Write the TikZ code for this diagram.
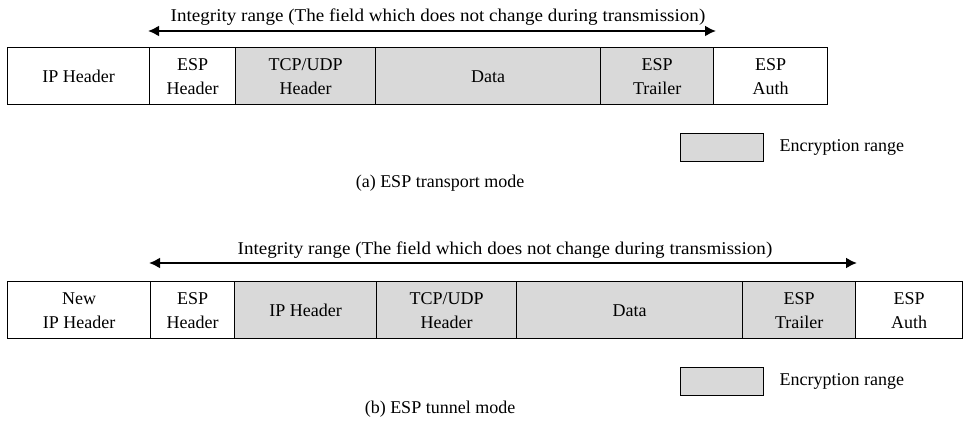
\documentclass[tikz,border=0pt]{standalone}
\usepackage{fontspec}
\setmainfont{Liberation Serif}
\newfontfamily\widefont{Liberation Serif}[FakeStretch=1.06]
\usetikzlibrary{arrows.meta}
\definecolor{encgray}{HTML}{D9D9D9}
\tikzset{
  x=1pt, y=-1pt,
  txt/.style={font=\fontsize{18}{24}\selectfont},
  widetxt/.style={font=\widefont\fontsize{18}{24}\selectfont},
  fieldcell/.style={draw=black, line width=1.4pt, anchor=north west, inner sep=0pt,
    align=center, txt, minimum height=57pt},
  plaincell/.style={fieldcell, fill=white},
  enccell/.style={fieldcell, fill=encgray},
  rangearrow/.style={line width=2pt, {Latex[length=11pt,width=11pt]}-{Latex[length=11pt,width=11pt]}},
  legendbox/.style={draw=black, line width=1.4pt, fill=encgray, anchor=north west,
    minimum width=83pt, minimum height=28pt, inner sep=0pt},
}
% #1 style, #2 name, #3 left x, #4 right x, #5 label (top y taken from \rowtop)
\newcommand{\cellat}[5]{%
  \node[#1, minimum width={#4-#3}] (#2) at (#3,\rowtop) {#5};}
\begin{document}
\begin{tikzpicture}
\useasboundingbox (0,0) rectangle (963,422);

% ---- (a) transport mode ----
\def\rowtop{47}
\cellat{plaincell}{a1}{7}{149}{IP Header}
\cellat{plaincell}{a2}{149}{235}{ESP\\Header}
\cellat{enccell}{a3}{235}{375}{TCP/UDP\\Header}
\cellat{enccell}{a4}{375}{600}{Data}
\cellat{enccell}{a5}{600}{713}{ESP\\Trailer}
\cellat{plaincell}{a6}{713}{827}{ESP\\Auth}

\coordinate (aL) at (148,31);
\coordinate (aR) at (716,31);
\draw[rangearrow] (aL) -- (aR);
\node[widetxt] (aint) at (438,17) {Integrity range (The field which does not change during transmission)};

\node[legendbox] (akey) at (680,133) {};
\node[txt, anchor=west] (akeytxt) at (776,147) {Encryption range};
\node[txt] (acap) at (440,183) {(a) ESP transport mode};

% ---- (b) tunnel mode ----
\def\rowtop{281}
\cellat{plaincell}{b1}{7}{150}{New\\IP Header}
\cellat{plaincell}{b2}{150}{234}{ESP\\Header}
\cellat{enccell}{b3}{234}{376}{IP Header}
\cellat{enccell}{b4}{376}{516}{TCP/UDP\\Header}
\cellat{enccell}{b5}{516}{742}{Data}
\cellat{enccell}{b6}{742}{855}{ESP\\Trailer}
\cellat{plaincell}{b7}{855}{962}{ESP\\Auth}

\coordinate (bL) at (149,263);
\coordinate (bR) at (857,263);
\draw[rangearrow] (bL) -- (bR);
\node[widetxt] (bint) at (505,250) {Integrity range (The field which does not change during transmission)};

\node[legendbox] (bkey) at (680,367) {};
\node[txt, anchor=west] (bkeytxt) at (776,381) {Encryption range};
\node[txt] (bcap) at (440,409) {(b) ESP tunnel mode};
\end{tikzpicture}
\end{document}
